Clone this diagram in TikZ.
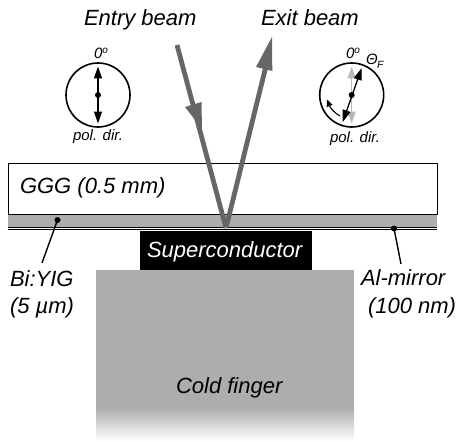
\documentclass[tikz,border=0pt]{standalone}
\usepackage{fontspec}
\setmainfont{Liberation Sans}
\usetikzlibrary{arrows.meta}
\definecolor{layergray}{gray}{0.68}
\definecolor{beamgray}{gray}{0.40}
\definecolor{ghostgray}{gray}{0.72}
\tikzset{
  lbl/.style={anchor=base west,inner sep=0pt,outer sep=0pt,font=\fontsize{22}{24}\selectfont\itshape},
  small/.style={anchor=base west,inner sep=0pt,outer sep=0pt,font=\fontsize{15}{17}\selectfont\itshape},
  beam/.style={draw=beamgray,line width=4.8pt},
  beamhead/.style={fill=beamgray},
  pol/.style={line width=1.3pt,{Triangle[length=12pt,width=8pt]}-{Triangle[length=12pt,width=8pt]}},
  dial/.style={circle,draw,line width=1.6pt,minimum size=64pt,inner sep=0pt},
  leader/.style={line width=1.4pt},
  dotmark/.style={circle,fill=black,inner sep=0pt,minimum size=6pt}
}
\begin{document}
\begin{tikzpicture}[x=1pt,y=-1pt]
\useasboundingbox (0,0) rectangle (457,441);
% cold finger
\fill[layergray] (96,270) rectangle (354,408);
\shade[top color=layergray,bottom color=white] (96,407.5) rectangle (354,441);
% superconductor
\node[fill=black,minimum width=171.5pt,minimum height=39.5pt,inner sep=0pt,anchor=north west] (sc) at (140,230.5) {};
\node[lbl,text=white] (sctext) at (147,257) {Superconductor};
% layers
\fill[layergray] (7.5,214) rectangle (437,227.5);
\node[draw,line width=1.3pt,minimum width=429.5pt,minimum height=51.5pt,inner sep=0pt,anchor=north west] (ggg) at (7.5,162.5) {};
\draw[line width=1pt] (7.5,227.5) -- (437,227.5);
\draw[line width=1pt] (7.5,229.9) -- (437,229.9);
\node[lbl] (gggtext) at (20,193) {GGG (0.5 mm)};
% beams
\coordinate (inA) at (177,45);
\coordinate (spot) at (226,228);
\coordinate (outB) at (267,62);
\draw[beam] (inA) -- (spot);
\draw[beam] (spot) -- (outB);
\fill[beamhead] (185,107) -- (201.5,102) -- (202,129) -- cycle;
\fill[beamhead] (272,37) -- (272.3,71) -- (256,67) -- cycle;
\node[lbl] (entry) at (84,26) {Entry beam};
\node[lbl] (exit) at (261,26) {Exit beam};
% left dial
\node[dial] (d1) at (98,95) {};
\coordinate (d1t) at (98,66.5);
\coordinate (d1b) at (98,123.5);
\draw[pol] (d1b) -- (d1t);
\node[dotmark] (d1c) at (d1) {};
\node[small] (z1) at (94,59) {0\raisebox{5pt}{\fontsize{10}{10}\selectfont o}};
\node[small] (p1) at (73,140) {pol. dir.};
% right dial
\node[dial] (d2) at (351.7,95) {};
\coordinate (d2t) at (351.7,66.5);
\coordinate (d2b) at (351.7,123.5);
\coordinate (d2r) at (361.7,68);
\coordinate (d2l) at (342.7,122);
\draw[pol,draw=ghostgray,fill=ghostgray,line width=1.5pt] (d2b) -- (d2t);
\draw[pol] (d2l) -- (d2r);
\node[dotmark] (d2c) at (d2) {};
\coordinate (rotA) at (340,116);
\coordinate (rotB) at (327,99.5);
\draw[line width=1.1pt,-{Triangle[length=7pt,width=6pt]}] (rotA) .. controls (334,113) and (330,107) .. (rotB);
\node[small] (z2) at (346,59) {0\raisebox{5pt}{\fontsize{10}{10}\selectfont o}};
\node[small] (th) at (366,65) {Θ};
\node[anchor=base west,inner sep=0pt,font=\fontsize{10.5}{12}\selectfont\itshape] (thF) at (377,69) {F};
\node[small] (p2) at (330,142) {pol. dir.};
% leaders
\node[dotmark] (byd) at (57.5,220) {};
\coordinate (byend) at (42,263);
\draw[leader] (byd.center) -- (byend);
\node[lbl] (by1) at (10,286) {Bi:YIG};
\node[lbl] (by2) at (10,313) {(5 µm)};
\node[dotmark] (ald) at (394,228.5) {};
\coordinate (alend) at (401,264);
\draw[leader] (ald.center) -- (alend);
\node[lbl] (al1) at (361,285) {Al-mirror};
\node[lbl] (al2) at (368,313) {(100 nm)};
\node[lbl] (cf) at (176,393) {Cold finger};
\end{tikzpicture}
\end{document}
